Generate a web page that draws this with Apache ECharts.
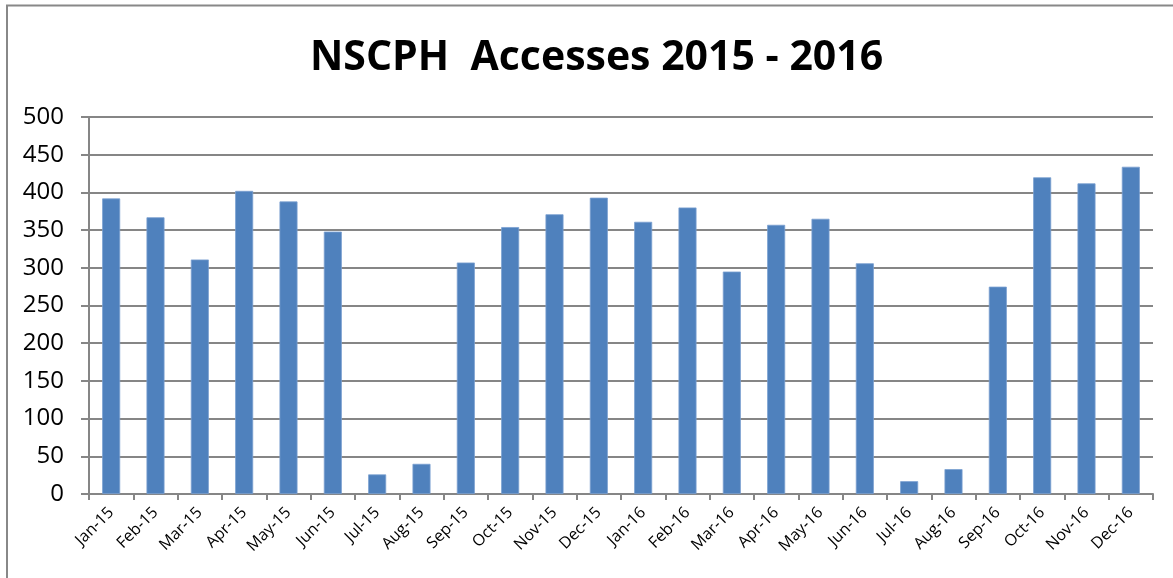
<!DOCTYPE html>
<html>
<head>
<meta charset="utf-8">
<title>NSCPH Accesses 2015 - 2016</title>
<script src="https://cdn.jsdelivr.net/npm/echarts@6/dist/echarts.min.js"></script>
<style>
  html, body { margin: 0; padding: 0; background: #fff; }
  #chart { width: 1173px; height: 578px; }
</style>
</head>
<body>
<div id="chart"></div>
<script>
// monthly access counts
const months = [
  "Jan-15", "Feb-15", "Mar-15", "Apr-15", "May-15", "Jun-15",
  "Jul-15", "Aug-15", "Sep-15", "Oct-15", "Nov-15", "Dec-15",
  "Jan-16", "Feb-16", "Mar-16", "Apr-16", "May-16", "Jun-16",
  "Jul-16", "Aug-16", "Sep-16", "Oct-16", "Nov-16", "Dec-16",
];
const accesses = [
  392, 367, 311, 402, 388, 348,
  26, 40, 307, 354, 371, 393,
  361, 380, 295, 357, 365, 306,
  17, 33, 275, 420, 412, 434,
];
const yMin = 0;
const yMax = 500;
const yStep = 50;

const gridColor = "#868686";
const fontFamily = "'Open Sans', 'Noto Sans', sans-serif";

const chart = echarts.init(document.getElementById("chart"), null, { renderer: "canvas" });

chart.setOption({
  animation: false,
  backgroundColor: "#fff",
  title: {
    text: "NSCPH  Accesses 2015 - 2016",
    left: 305,
    top: 33,
    textStyle: {
      fontFamily: fontFamily,
      fontSize: 41,
      fontWeight: "bold",
      color: "#000",
    },
  },
  graphic: [
    // outer frame (only top and left edges show in the original)
    {
      type: "polyline",
      shape: { points: [[7, 578], [7, 5.5], [1173, 5.5]] },
      style: { stroke: "#888", lineWidth: 2, fill: null },
      silent: true,
    },
  ],
  grid: {
    left: 89,
    right: 20,
    top: 117,
    bottom: 84,
    containLabel: false,
  },
  xAxis: {
    type: "category",
    data: months,
    boundaryGap: true,
    axisLine: { lineStyle: { color: gridColor, width: 2 } },
    axisTick: { show: true, alignWithLabel: false, length: 6, lineStyle: { color: gridColor, width: 2 } },
    axisLabel: {
      interval: 0,
      rotate: 45,
      margin: 16,
      fontFamily: fontFamily,
      fontSize: 16,
      color: "#000",
    },
  },
  yAxis: {
    type: "value",
    min: yMin,
    max: yMax,
    interval: yStep,
    axisLine: { show: true, lineStyle: { color: gridColor, width: 2 } },
    axisTick: { show: true, length: 8, lineStyle: { color: gridColor, width: 2 } },
    splitLine: { show: true, lineStyle: { color: gridColor, width: 2 } },
    axisLabel: {
      margin: 25,
      fontFamily: fontFamily,
      fontSize: 24,
      color: "#000",
    },
  },
  series: [
    {
      name: "Accesses",
      type: "bar",
      data: accesses,
      barWidth: 18,
      itemStyle: {
        color: "#4F81BD",
        borderColor: "#7aa0d0",
        borderWidth: 0.8,
      },
    },
  ],
});
</script>
</body>
</html>
